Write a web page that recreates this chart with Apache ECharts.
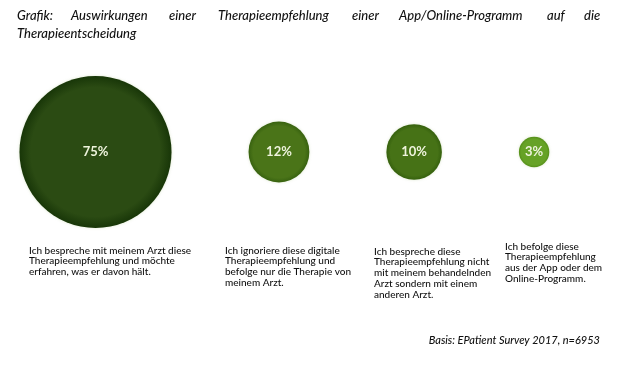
<!DOCTYPE html>
<html><head><meta charset="utf-8">
<script src="https://cdn.jsdelivr.net/npm/echarts@6/dist/echarts.min.js"></script>
<style>html,body{margin:0;padding:0;background:#fff}#c{width:640px;height:365px}</style>
</head><body><div id="c"></div>
<script>
// ---- data ----
const categories = [
  'Ich bespreche mit meinem Arzt diese\nTherapieempfehlung und möchte\nerfahren, was er davon hält.',
  'Ich ignoriere diese digitale\nTherapieempfehlung und\nbefolge nur die Therapie von\nmeinem Arzt.',
  'Ich bespreche diese\nTherapieempfehlung nicht\nmit meinem behandelnden\nArzt sondern mit einem\nanderen Arzt.',
  'Ich befolge diese\nTherapieempfehlung\naus der App oder dem\nOnline-Programm.'
];
const values = [75, 12, 10, 3];
const titleLine1 = ['Grafik:', 'Auswirkungen', 'einer', 'Therapieempfehlung', 'einer', 'App/Online-Programm', 'auf', 'die'];
const titleLine2 = 'Therapieentscheidung';
const source = 'Basis: EPatient Survey 2017, n=6953';

// ---- layout / style ----
const K = 8.78;          // radius (px) per sqrt(percent)
const GAP = 77;          // edge-to-edge gap between bubbles
const START = 95.5;      // centre of first bubble
const titleX = [17, 71, 169, 218, 352, 399, 547, 584];
const descX = [29, 225, 374, 505];
const descY = [245, 245, 246, 241];
const fills = [
  ['#2b4b13', '#183608'],
  ['#4a7418', '#386210'],
  ['#467216', '#36610e'],
  ['#66a226', '#558f19']
];
const FONT = 'Lato, "Open Sans", sans-serif';

// packed row: bubble centres derived from their radii
const radius = values.map(v => K * Math.sqrt(v));
const xs = [];
values.forEach((v, i) => {
  xs.push(i === 0 ? START : xs[i - 1] + radius[i - 1] + GAP + radius[i]);
});

const chart = echarts.init(document.getElementById('c'), null, {renderer: 'canvas'});

const graphics = [];
titleLine1.forEach((w, i) => graphics.push({
  type: 'text', left: titleX[i], top: 9,
  style: {text: w, font: 'italic 500 13px ' + FONT, fill: '#111'}
}));
graphics.push({type: 'text', left: 17, top: 27,
  style: {text: titleLine2, font: 'italic 500 13px ' + FONT, fill: '#111'}});
categories.forEach((t, i) => graphics.push({
  type: 'text', left: descX[i], top: descY[i],
  style: {text: t, font: '500 10px ' + FONT, fill: '#111', lineHeight: 10.8}
}));
graphics.push({type: 'text', right: 40, top: 335,
  style: {text: source, font: 'italic 500 11px ' + FONT, fill: '#111'}});

chart.setOption({
  animation: false,
  grid: {left: 0, right: 0, top: 76, bottom: 137},
  xAxis: {type: 'value', min: 0, max: 640, show: false},
  yAxis: {type: 'category', data: ['row'], show: false},
  graphic: graphics,
  series: [{
    type: 'scatter',
    symbolSize: val => 2 * K * Math.sqrt(val[2]),
    data: values.map((v, i) => ({
      value: [xs[i], 'row', v],
      itemStyle: {
        color: new echarts.graphic.RadialGradient(0.5, 0.5, 0.5, [
          {offset: 0, color: fills[i][0]},
          {offset: 0.85, color: fills[i][0]},
          {offset: 1, color: fills[i][1]}
        ]),
        opacity: 1,
        shadowBlur: 3,
        shadowColor: 'rgba(120,160,60,0.25)'
      }
    })),
    label: {
      show: true, position: 'inside',
      formatter: p => p.value[2] + '%',
      color: '#eef3dc', fontFamily: FONT, fontWeight: 'bold', fontSize: 13
    },
    emphasis: {disabled: true}
  }]
});
</script></body></html>
